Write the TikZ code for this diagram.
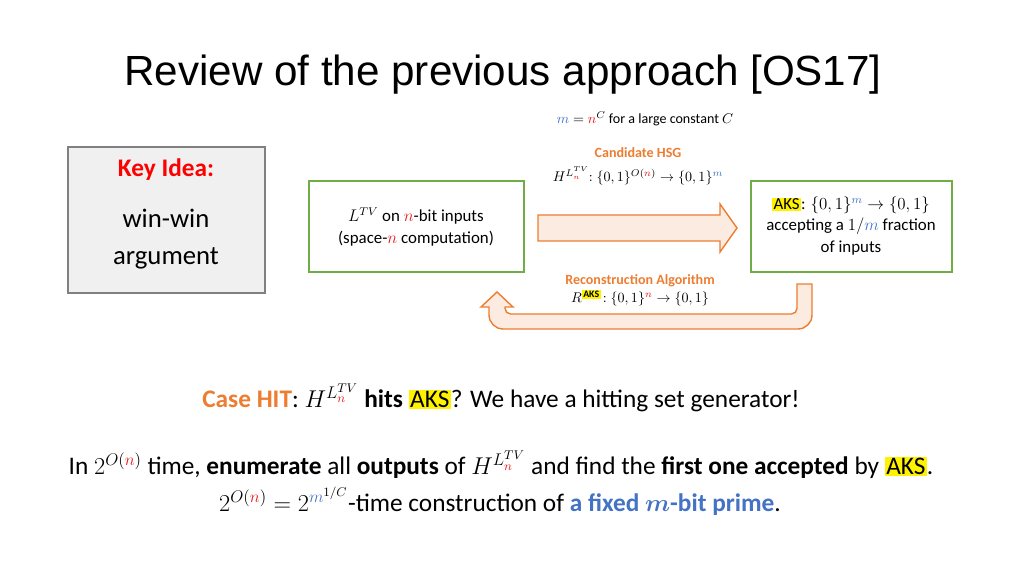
\documentclass[tikz,border=0pt]{standalone}
\usepackage{amsmath}
\usepackage{fontspec}
\setmainfont{Carlito}
\newfontfamily\titlefont{Liberation Sans}
\definecolor{ppOrange}{RGB}{237,125,49}
\definecolor{ppGreen}{RGB}{112,173,71}
\definecolor{ppRed}{RGB}{230,20,20}
\definecolor{ppBlue}{RGB}{68,114,196}
\newcommand{\rn}{\textcolor{ppRed}{n}}
\newcommand{\bm}{\textcolor{ppBlue}{m}}
\newcommand{\hl}[1]{{\setlength\fboxsep{1pt}\colorbox{yellow}{#1}}}
\tikzset{
  greenbox/.style={draw=ppGreen,line width=1.2pt},
  blockarrow/.style={draw=ppOrange,fill=ppOrange!15,line width=1pt},
  small/.style={font=\fontsize{10}{12}\selectfont,align=center},
  body/.style={font=\fontsize{18}{22}\selectfont}
}
\begin{document}
\begin{tikzpicture}[x=0.025cm,y=-0.025cm]
      \useasboundingbox (0,0) rectangle (1024,576);%

      \node[font=\titlefont\fontsize{30}{36}\selectfont] (title) at (503,75) {Review of the previous approach [OS17]};%

      \draw[draw=gray,fill=gray!12,line width=0.8pt] (68,147) rectangle (265,293);%
      \node[font=\fontsize{18}{22}\selectfont\bfseries,text=red] (key) at (166,170) {Key Idea:};%
      \node[font=\fontsize{19}{26}\selectfont,align=center] (winwin) at (166,239) {win-win\\argument};%

      \node[small] (mdef) at (645,119) {$\bm = \rn^{C}$ for a large constant $C$};%
      \node[small,text=ppOrange,font=\fontsize{10}{12}\selectfont\bfseries] (cand) at (638,153) {Candidate HSG};%
      \node[small] (candf) at (638,176) {$H^{L_{\rn}^{TV}}\!\!:\{0,1\}^{O(\rn)}\to\{0,1\}^{\bm}$};%

      \draw[greenbox] (309,181) rectangle (524,272);%
      \node[small,font=\fontsize{12}{15}\selectfont] (ltv) at (416,227) {$L^{TV}$ on $\rn$-bit inputs\\(space-$\rn$ computation)};%
      \draw[greenbox] (751,181) rectangle (952,272);%
      \node[small,font=\fontsize{12}{15}\selectfont] (aks) at (851,226) {\hl{AKS}: $\{0,1\}^{\bm}\to\{0,1\}$\\accepting a $1/\bm$ fraction\\of inputs};%

      \draw[blockarrow] (538,215) -- (720,215) -- (720,204) -- (737,228) -- (720,252) -- (720,241) -- (538,241) -- cycle;%
      \draw[blockarrow] (797,284) -- (812,284) [rounded corners=10pt] -- (812,329) -- (489,329) [sharp corners] -- (489,307) -- (481,307) -- (497,292) -- (513,307) -- (505,307) [rounded corners=4pt] -- (505,314) -- (797,314) [sharp corners] -- cycle;%

      \node[small,text=ppOrange,font=\fontsize{10}{12}\selectfont\bfseries] (recon) at (640,281) {Reconstruction Algorithm};%
      \node[small] (reconf) at (640,298) {$R^{\text{\hl{\bfseries AKS}}}\!:\{0,1\}^{\rn}\to\{0,1\}$};%

      \node[body] (hit) at (501,398) {\textcolor{ppOrange}{\bfseries Case HIT}: $H^{L_{\rn}^{TV}}$ \textbf{hits} \hl{AKS}? We have a hitting set generator!};%
      \node[body] (enum) at (501,465) {In $2^{O(\rn)}$ time, \textbf{enumerate} all \textbf{outputs} of $H^{L_{\rn}^{TV}}$ and find the \textbf{first one accepted} by \hl{AKS}.};%
      \node[body] (prime) at (500,501) {$2^{O(\rn)}=2^{\bm^{1/C}}$-time construction of \textcolor{ppBlue}{\bfseries a fixed $\boldsymbol{m}$-bit prime}.};%
    \end{tikzpicture}
\end{document}
